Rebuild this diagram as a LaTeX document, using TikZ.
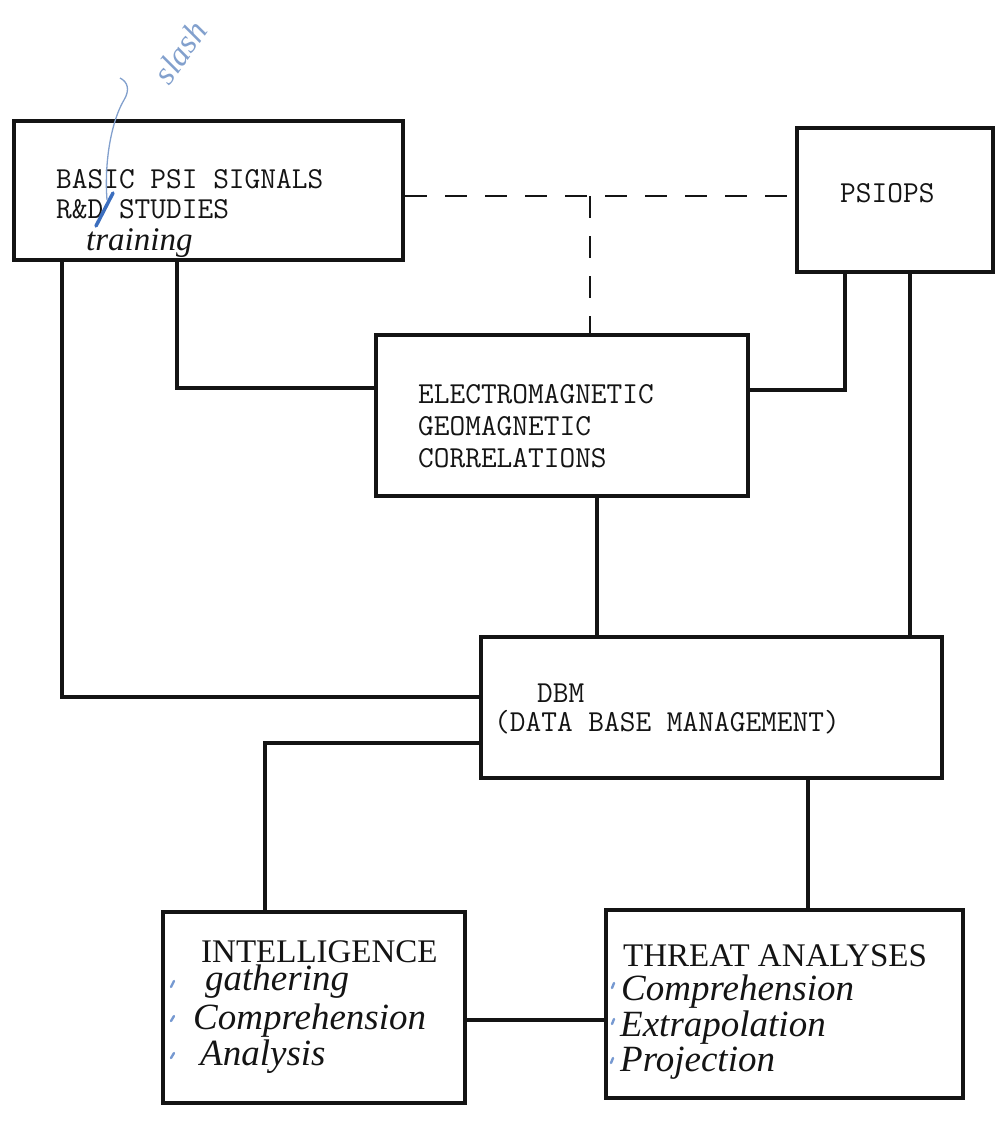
\documentclass[tikz,border=0pt]{standalone}
\usepackage{fontspec}
\newfontfamily\handfont{Liberation Serif}
\definecolor{ink}{RGB}{20,20,20}
\definecolor{pen}{RGB}{60,110,190}
\definecolor{palepen}{RGB}{130,160,205}
\begin{document}
\begin{tikzpicture}[x=1pt,y=-1pt,
  box/.style={draw=ink,line width=4.4pt,rectangle,inner sep=0pt},
  conn/.style={draw=ink,line width=3.4pt},
  dashconn/.style={draw=ink,line width=1.8pt,dash pattern=on 22pt off 18pt},
  typed/.style={font=\ttfamily\fontsize{30.5}{33}\selectfont,anchor=base west,inner sep=0pt,text=ink},
  hand/.style={font=\handfont\itshape\fontsize{37}{40}\selectfont,anchor=base west,inner sep=0pt,text=ink},
  handcaps/.style={font=\handfont\fontsize{33}{36}\selectfont,anchor=base west,inner sep=0pt,text=ink},
  bullet/.style={draw=pen!70,line width=2.4pt,line cap=round}
]
\useasboundingbox (0,0) rectangle (996,1121);
% boxes
\node[box,minimum width=389pt,minimum height=139pt] (A) at (208.5,190.5) {};
\node[box,minimum width=196pt,minimum height=144pt] (PS) at (895,200) {};
\node[box,minimum width=372pt,minimum height=161pt] (EM) at (562,415.5) {};
\node[box,minimum width=461pt,minimum height=141pt] (DBM) at (711.5,707.5) {};
\node[box,minimum width=302pt,minimum height=191pt] (INT) at (314,1007.5) {};
\node[box,minimum width=357pt,minimum height=188pt] (THR) at (784.5,1004) {};
% typed texts
\node[typed] (ta1) at (56,188) {BASIC PSI SIGNALS};
\node[typed] (ta2) at (56,218) {R\&D STUDIES};
\node[typed] (tp) at (840,202) {PSIOPS};
\node[typed] (te1) at (418,403) {ELECTROMAGNETIC};
\node[typed] (te2) at (418,435) {GEOMAGNETIC};
\node[typed] (te3) at (418,467) {CORRELATIONS};
\node[typed] (td1) at (537,702) {DBM};
\node[typed] (td2) at (494,731) {(DATA BASE MANAGEMENT)};
% handwritten texts
\node[hand,font=\handfont\itshape\fontsize{33}{36}\selectfont] (tr) at (86,250) {training};
\node[handcaps] (ti1) at (201,962) {INTELLIGENCE};
\node[hand] (ti2) at (205,990) {gathering};
\node[hand] (ti3) at (193,1029) {Comprehension};
\node[hand] (ti4) at (200,1065) {Analysis};
\node[handcaps] (tt1) at (623,966) {THREAT ANALYSES};
\node[hand] (tt2) at (621,1000) {Comprehension};
\node[hand] (tt3) at (620,1036) {Extrapolation};
\node[hand] (tt4) at (620,1071) {Projection};
% blue annotation
\draw[pen,line width=3.5pt,line cap=round] (96,226) -- (113,193);
\draw[palepen,line width=1.3pt] (107,200) .. controls (104,160) and (112,120) .. (124,100) .. controls (130,90) and (128,82) .. (120,78);
\node[palepen,font=\handfont\itshape\fontsize{33}{35}\selectfont,rotate=55,inner sep=0pt] (sl) at (180,52) {slash};
% bullets
\draw[bullet] (171,987) -- (174,981);
\draw[bullet] (171,1021) -- (174,1016);
\draw[bullet] (171,1058) -- (174,1053);
\draw[bullet] (612,988) -- (614,983);
\draw[bullet] (612,1024) -- (614,1019);
\draw[bullet] (611,1063) -- (613,1058);
% connectors
\coordinate (k1) at (62,697);
\coordinate (k2) at (177,388);
\coordinate (k3) at (0,196);
\coordinate (k4) at (590,196);
\coordinate (k5) at (845,390);
\coordinate (k6) at (910,0);
\coordinate (k7) at (597,0);
\coordinate (k8) at (265,743);
\coordinate (k9) at (808,0);
\coordinate (k10) at (0,1020);
\draw[conn] (A.south -| k1) |- (DBM.west |- k1);
\draw[conn] (A.south -| k2) |- (EM.west |- k2);
\draw[dashconn] (A.east |- k3) -- (PS.west |- k3);
\draw[dashconn] (k4) -- (EM.north -| k4);
\draw[conn] (PS.south -| k5) |- (EM.east |- k5);
\draw[conn] (PS.south -| k6) -- (DBM.north -| k6);
\draw[conn] (EM.south -| k7) -- (DBM.north -| k7);
\draw[conn] (INT.north -| k8) |- (DBM.west |- k8);
\draw[conn] (DBM.south -| k9) -- (THR.north -| k9);
\draw[conn] (INT.east |- k10) -- (THR.west |- k10);
\end{tikzpicture}
\end{document}
